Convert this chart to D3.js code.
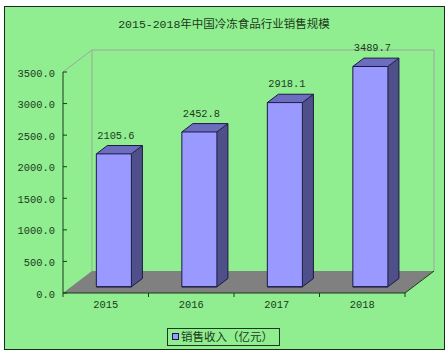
<!DOCTYPE html>
<html>
<head>
<meta charset="utf-8">
<script src="https://cdn.jsdelivr.net/npm/d3@7"></script>
<style>
body{margin:0;background:#fff;}
text{font-family:"Liberation Mono","Noto Sans CJK SC",monospace;fill:#1b3a1b;}
</style>
</head>
<body>
<div id="chart"></div>
<script>
let years = ["2015","2016","2017","2018"];
let sales = [2105.6, 2452.8, 2918.1, 3489.7];
let yTicks = [0, 500, 1000, 1500, 2000, 2500, 3000, 3500];
let title = "2015-2018年中国冷冻食品行业销售规模";
let seriesName = "销售收入（亿元）";

let width = 448, height = 354;
let depthX = 29, depthY = -22;   // full depth of the 3D box
let d0 = 0.28, d1 = 0.66;         // bar front/back depth

let svg = d3.select("#chart").append("svg")
    .attr("width", width)
    .attr("height", height);

svg.append("rect")
    .attr("x", 4.5).attr("y", 6.5)
    .attr("width", 440).attr("height", 343)
    .attr("fill", "#90ee90")
    .attr("stroke", "#1a2a1a");

svg.append("text")
    .attr("x", 224).attr("y", 24)
    .attr("text-anchor", "middle")
    .attr("dy", "0.35em")
    .style("font-size", "11.5px")
    .text(title);

let x = d3.scaleBand()
    .domain(years)
    .range([63, 405])
    .paddingInner(0.59)
    .paddingOuter(0.295);

let y = d3.scaleLinear()
    .domain([0, 3500])
    .range([293, 72]);

let [x0, x1] = x.range();
let yb = y(0), yt = y(3500);

// floor
svg.append("path")
    .attr("d", `M${x0},${yb}L${x1},${yb}L${x1+depthX},${yb+depthY}L${x0+depthX},${yb+depthY}Z`)
    .attr("fill", "#808080");

// walls
svg.append("path")
    .attr("d", `M${x0},${yt}L${x0+depthX},${yt+depthY}L${x1+depthX},${yt+depthY}L${x1+depthX},${yb+depthY}` +
        `M${x0+depthX},${yt+depthY}L${x0+depthX},${yb+depthY}`)
    .attr("fill", "none")
    .attr("stroke", "#9aa89a")
    .attr("stroke-width", 1);

// front axes
svg.append("path")
    .attr("d", `M${x0},${yt}L${x0},${yb}L${x1},${yb}L${x1+depthX},${yb+depthY}`)
    .attr("fill", "none")
    .attr("stroke", "#1a3a1a");

let yAxis = svg.append("g");
yAxis.selectAll("line")
    .data(yTicks)
    .join("line")
        .attr("x1", x0).attr("x2", x0 + 4)
        .attr("y1", d => y(d)).attr("y2", d => y(d))
        .attr("stroke", "#1a3a1a");
yAxis.selectAll("text")
    .data(yTicks)
    .join("text")
        .attr("x", 55)
        .attr("y", d => y(d) + 1)
        .attr("dy", "0.35em")
        .attr("text-anchor", "end")
        .style("font-size", "10.4px")
        .text(d => d3.format(".1f")(d));

let step = x.step();
let xTickPos = d3.range(years.length + 1).map(i => x0 + i * (x1 - x0) / years.length);
svg.append("g").selectAll("line")
    .data(xTickPos)
    .join("line")
        .attr("x1", d => d).attr("x2", d => d)
        .attr("y1", yb).attr("y2", yb + 4)
        .attr("stroke", "#1a3a1a");

svg.append("g").selectAll("text")
    .data(years)
    .join("text")
        .attr("x", d => x(d) + x.bandwidth() / 2)
        .attr("y", 304)
        .attr("dy", "0.35em")
        .attr("text-anchor", "middle")
        .style("font-size", "10.4px")
        .text(d => d);

// bars
let fx = d0 * depthX, fy = d0 * depthY;
let bx = d1 * depthX, by = d1 * depthY;
let bars = svg.append("g").selectAll("g")
    .data(years.map((yr, i) => ({yr, v: sales[i]})))
    .join("g");

bars.each(function(d){
    let g = d3.select(this);
    let l = x(d.yr) + fx, r = l + x.bandwidth();
    let t = y(d.v) + fy, b = yb + fy;
    let sx = bx - fx, sy = by - fy;
    g.append("path")
        .attr("d", `M${l},${t}L${l+sx},${t+sy}L${r+sx},${t+sy}L${r},${t}Z`)
        .attr("fill", "#6d6dbf");
    g.append("path")
        .attr("d", `M${r},${t}L${r+sx},${t+sy}L${r+sx},${b+sy}L${r},${b}Z`)
        .attr("fill", "#4f4f8a");
    g.append("rect")
        .attr("x", l).attr("y", t)
        .attr("width", x.bandwidth()).attr("height", b - t)
        .attr("fill", "#9999ff");
    g.append("path")
        .attr("d", `M${l},${b}L${l},${t}L${l+sx},${t+sy}L${r+sx},${t+sy}L${r+sx},${b+sy}L${r},${b}Z` +
            `M${l},${t}L${r},${t}L${r},${b}M${r},${t}L${r+sx},${t+sy}M${l},${b}L${r},${b}`)
        .attr("fill", "none")
        .attr("stroke", "#1a1a40")
        .attr("stroke-width", 1);
    g.append("text")
        .attr("x", (l + r) / 2 + 2)
        .attr("y", t - 19)
        .attr("dy", "0.35em")
        .attr("text-anchor", "middle")
        .style("font-size", "10.4px")
        .text(d3.format(".1f")(d.v));
});

// legend
let lg = svg.append("g");
lg.append("rect")
    .attr("x", 167.5).attr("y", 328.5)
    .attr("width", 112).attr("height", 17)
    .attr("fill", "none")
    .attr("stroke", "#1a3a1a");
lg.append("rect")
    .attr("x", 172.5).attr("y", 333.5)
    .attr("width", 6).attr("height", 6)
    .attr("fill", "#9999ff")
    .attr("stroke", "#1a1a40");
lg.append("text")
    .attr("x", 181).attr("y", 337)
    .attr("dy", "0.35em")
    .style("font-size", "11.5px")
    .text(seriesName);
</script>
</body>
</html>
